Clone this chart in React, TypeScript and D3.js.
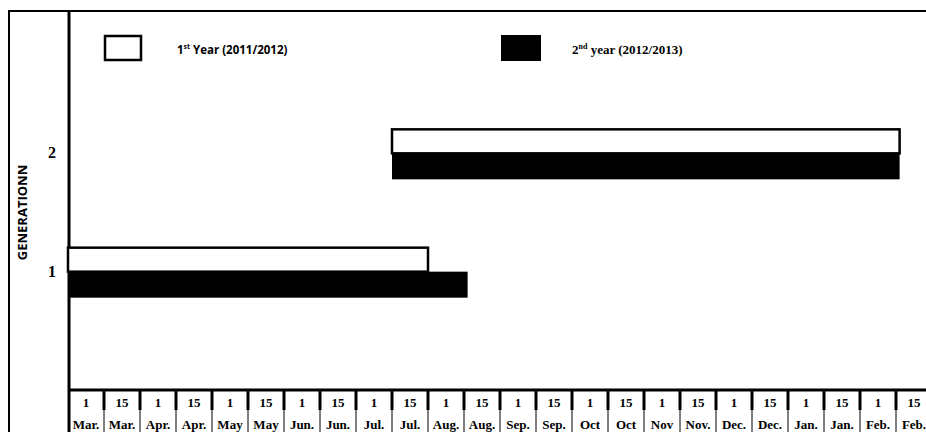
import * as d3 from 'd3'

const dayLabels = ['1', '15', '1', '15', '1', '15', '1', '15', '1', '15', '1', '15', '1', '15', '1', '15', '1', '15', '1', '15', '1', '15', '1', '15']
const monthLabels = ['Mar.', 'Mar.', 'Apr.', 'Apr.', 'May', 'May', 'Jun.', 'Jun.', 'Jul.', 'Jul.', 'Aug.', 'Aug.', 'Sep.', 'Sep.', 'Oct', 'Oct', 'Nov', 'Nov.', 'Dec.', 'Dec.', 'Jan.', 'Jan.', 'Feb.', 'Feb.']
const generations = [1, 2]
// start / end in half-month slots from 1 Mar.
const year1 = [{ gen: 1, start: 0, end: 10 }, { gen: 2, start: 9, end: 23.1 }]
const year2 = [{ gen: 1, start: 0, end: 11.1 }, { gen: 2, start: 9, end: 23.1 }]

export default function App() {
  const width = 926
  const height = 432
  const x = d3.scaleLinear().domain([0, 24]).range([68, 932])
  const y = d3.scaleLinear().domain([0, 3]).range([390, 35])
  const barH = 24

  return (
    <svg width={width} height={height} style={{ position: 'absolute', left: 0, top: 0 }}>
      <rect x={9} y={11} width={940} height={440} fill="none" stroke="#000" strokeWidth={2} />
      <line x1={69} x2={69} y1={11} y2={432} stroke="#000" strokeWidth={3} />
      <line x1={69} x2={926} y1={390} y2={390} stroke="#000" strokeWidth={3} />
      {dayLabels.map((d, i) => (
        <g key={i}>
          <line x1={x(i + 1)} x2={x(i + 1)} y1={390} y2={410} stroke="#000" strokeWidth={3} />
          <line x1={x(i + 1)} x2={x(i + 1)} y1={410} y2={432} stroke="#000" strokeWidth={1} />
          <text x={x(i + 0.5)} y={407} textAnchor="middle" fontFamily="Liberation Serif" fontWeight="bold" fontSize={13}>{d}</text>
          <text x={x(i + 0.5)} y={429} textAnchor="middle" fontFamily="Liberation Serif" fontWeight="bold" fontSize={13}>{monthLabels[i]}</text>
        </g>
      ))}
      {generations.map(g => (
        <text key={g} x={52} y={y(g) + 5} textAnchor="middle" fontFamily="Liberation Serif" fontWeight="bold" fontSize={16}>{g}</text>
      ))}
      <text transform={`translate(27,${y(1.5)}) rotate(-90)`} textAnchor="middle" fontFamily="Open Sans" fontWeight="bold" fontSize={13}>GENERATIONN</text>
      {year1.map((b, i) => (
        <rect key={'a' + i} x={x(b.start)} y={y(b.gen) - barH} width={x(b.end) - x(b.start)} height={barH} fill="#fff" stroke="#000" strokeWidth={2.5} />
      ))}
      {year2.map((b, i) => (
        <rect key={'b' + i} x={x(b.start)} y={y(b.gen)} width={x(b.end) - x(b.start)} height={barH + 2} fill="#000" />
      ))}
      <rect x={105} y={36} width={36} height={24} fill="#fff" stroke="#000" strokeWidth={2.5} />
      <text x={177} y={54} fontFamily="Open Sans" fontWeight="bold" fontSize={11.5}>1<tspan dy={-5} fontSize={7}>st</tspan><tspan dy={5}> Year (2011/2012)</tspan></text>
      <rect x={501} y={35} width={40} height={26} fill="#000" />
      <text x={572} y={54} fontFamily="Liberation Serif" fontWeight="bold" fontSize={13}>2<tspan dy={-5} fontSize={8}>nd</tspan><tspan dy={5}> year (2012/2013)</tspan></text>
    </svg>
  )
}
